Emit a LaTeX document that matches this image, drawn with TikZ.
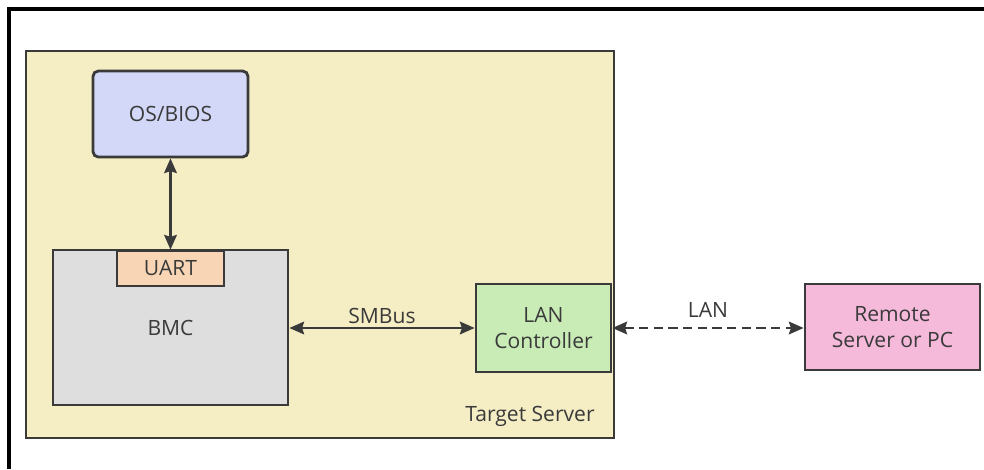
\documentclass[tikz,border=0pt]{standalone}
\usepackage{fontspec}
\setmainfont{Open Sans}
\usepackage{tikz}
\usetikzlibrary{arrows.meta,positioning}

\definecolor{ink}{HTML}{3A3A3A}
\definecolor{serverfill}{HTML}{F5EDC3}
\definecolor{osfill}{HTML}{D4D8F8}
\definecolor{bmcfill}{HTML}{DEDEDE}
\definecolor{uartfill}{HTML}{F8D6B5}
\definecolor{lanfill}{HTML}{C9ECB6}
\definecolor{remotefill}{HTML}{F5B9DA}

\tikzset{
  box/.style={draw=ink,line width=2.1pt,inner sep=0pt,align=center,text=ink,font=\fontsize{15.8}{19}\selectfont},
  link/.style={<->,draw=ink,line width=1.8pt},
  lbl/.style={text=ink,font=\fontsize{15.8}{19}\selectfont}
}

\begin{document}
\begin{tikzpicture}[>={Stealth[length=11pt,width=9.5pt,inset=1.5pt]},x=0.75pt,y=-0.75pt]
\useasboundingbox (0,0) rectangle (984,469);
% frame of the screenshot
\draw[line width=3pt] (9,469) -- (9,9) -- (984,9);
% target server
\node[box,line width=1.8pt,fill=serverfill,minimum width=441pt,minimum height=290.25pt] (target) at (320,244.5) {};
\node[lbl] (tname) at (530,416) {Target Server};
\node[box,fill=osfill,rounded corners=4pt,minimum width=116.25pt,minimum height=64.5pt] (os) at (170.5,114) {OS/BIOS};
\node[box,fill=bmcfill,minimum width=176.25pt,minimum height=116.25pt] (bmc) at (170.5,327.5) {BMC};
\node[box,fill=uartfill,minimum width=80.25pt,minimum height=26.25pt] (uart) at (170.5,268.5) {UART};
\node[box,fill=lanfill,minimum width=101.25pt,minimum height=66pt] (lan) at (543.5,328) {LAN\\Controller};
% outside
\node[box,fill=remotefill,minimum width=131.25pt,minimum height=64.5pt] (remote) at (892.5,327) {Remote\\Server or PC};
% connections
\draw[link] (os.south) -- (uart.north);
\draw[link] (bmc.east|-lan.west) -- node[lbl,above=-1pt] {SMBus} (lan.west);
\draw[link,dash pattern=on 7pt off 4pt] (lan.east) -- node[lbl,above=4pt] {LAN} (remote.west|-lan.east);
\end{tikzpicture}
\end{document}
